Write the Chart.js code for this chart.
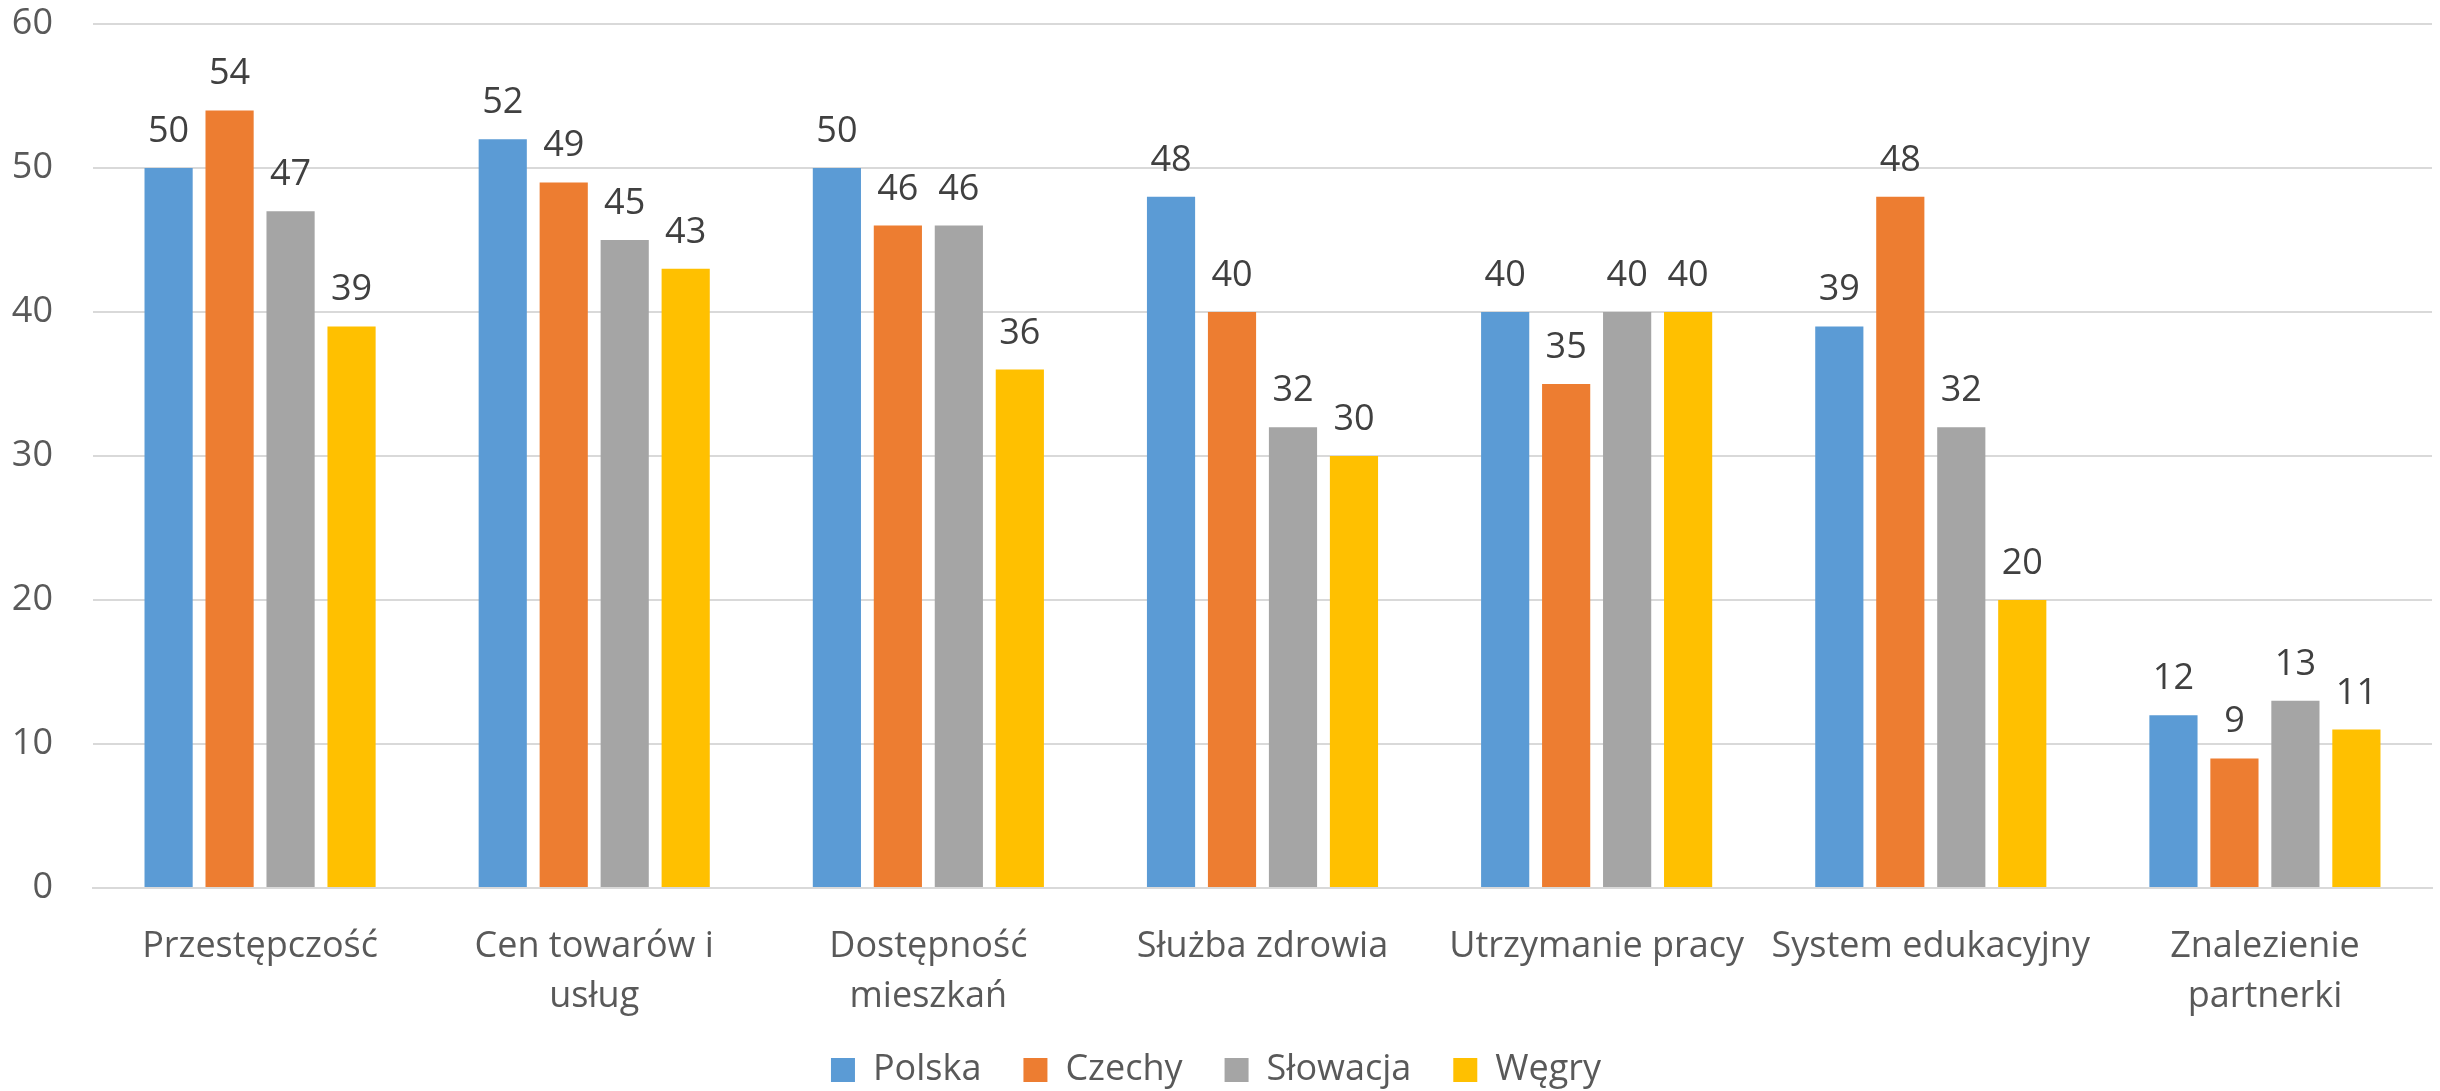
<!DOCTYPE html>
<html>
<head>
<meta charset="utf-8">
<script src="https://cdn.jsdelivr.net/npm/chart.js@4/dist/chart.umd.min.js"></script>
<style>
  html, body { margin: 0; padding: 0; background: #fff; }
  #box { width: 2440px; height: 1091px; }
</style>
</head>
<body>
<div id="box"><canvas id="myChart"></canvas></div>
<script>
var kategorie = [
    'Przestępczość',
    ['Cen towarów i', 'usług'],
    ['Dostępność', 'mieszkań'],
    'Służba zdrowia',
    'Utrzymanie pracy',
    'System edukacyjny',
    ['Znalezienie', 'partnerki']
];
var polska = [50, 52, 50, 48, 40, 39, 12];
var czechy = [54, 49, 46, 40, 35, 48, 9];
var slowacja = [47, 45, 46, 32, 40, 32, 13];
var wegry = [39, 43, 36, 30, 40, 20, 11];
var osY = [0, 10, 20, 30, 40, 50, 60];

var font = "'Open Sans', sans-serif";

// etykiety nad słupkami
var etykiety = {
    id: 'etykiety',
    beforeDraw: function (chart) {
        // drugi wiersz podpisów osi X wchodzi pod legendę - bez przycinania
        chart.scales.x._computeLabelArea = function () { return undefined; };
    },
    afterDatasetsDraw: function (chart) {
        var ctx = chart.ctx;
        ctx.save();
        ctx.font = '36px ' + font;
        ctx.fillStyle = '#404040';
        ctx.textAlign = 'center';
        ctx.textBaseline = 'alphabetic';
        chart.data.datasets.forEach(function (ds, i) {
            var meta = chart.getDatasetMeta(i);
            meta.data.forEach(function (bar, j) {
                ctx.fillText(ds.data[j], bar.x, bar.y - 26);
            });
        });
        ctx.restore();
    }
};

function zestaw(nazwa, dane, kolor) {
    return {
        label: nazwa,
        data: dane,
        backgroundColor: kolor,
        borderWidth: 0,
        categoryPercentage: 0.73,
        barPercentage: 0.79
    };
}

var ctx = document.getElementById('myChart');
var chart = new Chart(ctx, {
    type: 'bar',
    data: {
        labels: kategorie,
        datasets: [
            zestaw('Polska', polska, '#5B9BD5'),
            zestaw('Czechy', czechy, '#ED7D31'),
            zestaw('Słowacja', slowacja, '#A5A5A5'),
            zestaw('Węgry', wegry, '#FFC000')
        ]
    },
    options: {
        responsive: true,
        maintainAspectRatio: false,
        animation: false,
        layout: { padding: { top: 24, right: 8, bottom: 0, left: 0 } },
        plugins: {
            tooltip: { enabled: false },
            legend: {
                position: 'bottom',
                maxHeight: 81,
                labels: {
                    font: { family: font, size: 36 },
                    color: '#595959',
                    boxWidth: 24,
                    boxHeight: 24,
                    padding: 42
                }
            }
        },
        scales: {
            x: {
                grid: { display: false },
                border: { color: '#d9d9d9', width: 2 },
                ticks: {
                    font: { family: font, size: 36, lineHeight: 1.39 },
                    color: '#595959',
                    maxRotation: 0,
                    autoSkip: false,
                    padding: 26
                },
                afterFit: function (scale) { scale.height = 122; }
            },
            y: {
                min: 0,
                max: 60,
                afterBuildTicks: function (scale) {
                    scale.ticks = osY.map(function (v) { return { value: v }; });
                },
                grid: { color: '#d9d9d9', lineWidth: 2, drawTicks: true, tickLength: 40, tickColor: 'rgba(0,0,0,0)' },
                border: { display: false },
                ticks: {
                    font: { family: font, size: 36 },
                    color: '#595959',
                    padding: 0
                },
                afterFit: function (scale) { scale.width = 93; }
            }
        }
    },
    plugins: [etykiety]
});
</script>
</body>
</html>
